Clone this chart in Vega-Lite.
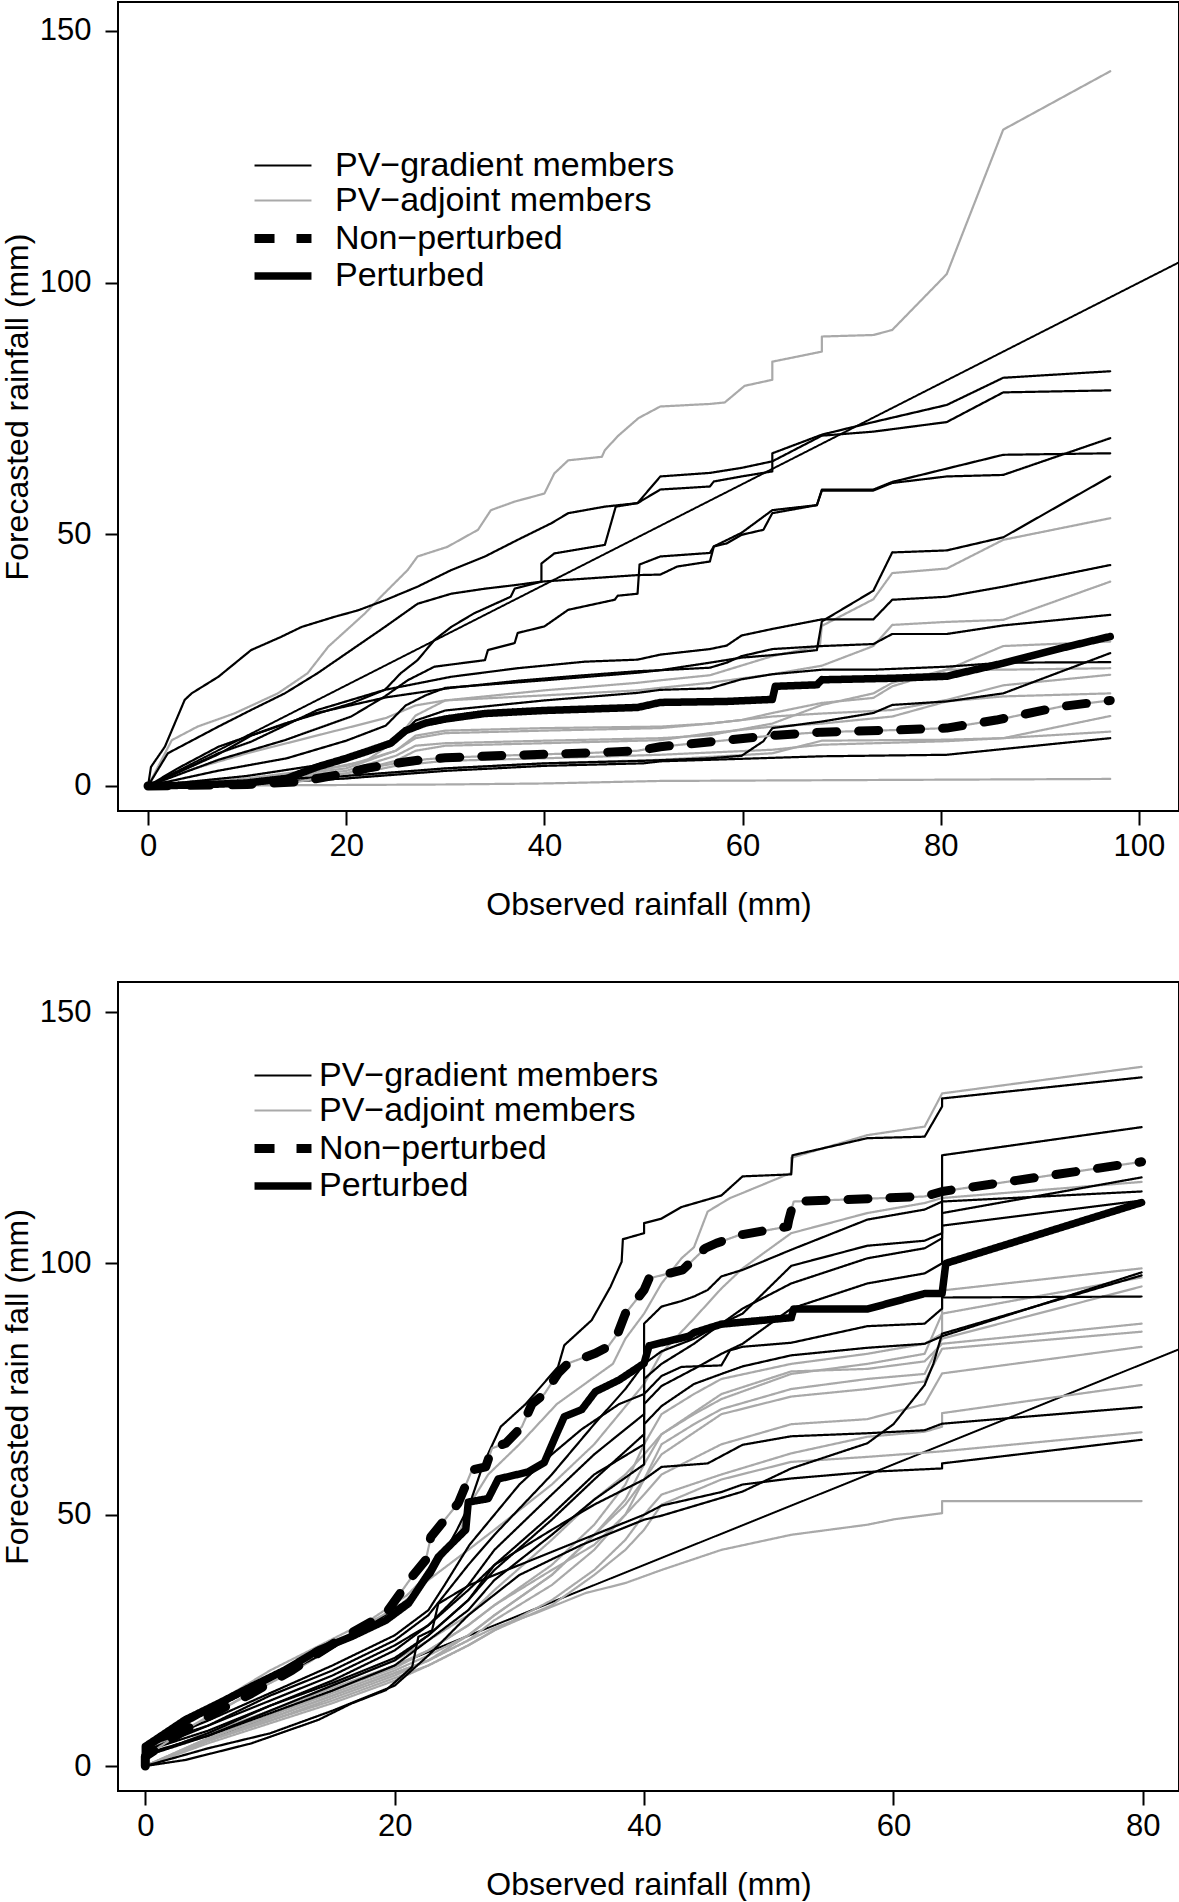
{
"$schema": "https://vega.github.io/schema/vega-lite/v6.json",
"autosize": {"type": "pad"},
"padding": {"left": 0, "top": 1, "right": 0, "bottom": 0},
"background": "white",
"bounds": "flush",
"spacing": 171,
"config": {
  "font": "Liberation Sans",
  "view": {"stroke": "#000", "strokeWidth": 2},
  "axis": {"domain": false, "grid": false, "tickColor": "#000", "tickWidth": 2, "labelColor": "#000", "titleColor": "#000", "labelFontSize": 31, "titleFontSize": 32, "titleFontWeight": "normal", "labelFont": "Liberation Sans", "titleFont": "Liberation Sans", "labelFlush": false, "labelOverlap": false},
  "axisX": {"tickSize": 14, "labelPadding": 6, "titlePadding": 28},
  "axisY": {"tickSize": 13, "labelPadding": 14, "titlePadding": 5, "labelAngle": 0},
  "line": {"strokeCap": "round", "strokeJoin": "round"}
},
"datasets": {"d": [
{"p":"T","s":"a1","k":"a","x":0,"y":0},{"p":"T","s":"a1","k":"a","x":2.4,"y":9.1},{"p":"T","s":"a1","k":"a","x":5,"y":11.8},{"p":"T","s":"a1","k":"a","x":8.7,"y":14.4},{"p":"T","s":"a1","k":"a","x":13.1,"y":18.4},{"p":"T","s":"a1","k":"a","x":16.1,"y":22.4},{"p":"T","s":"a1","k":"a","x":18.2,"y":27.7},{"p":"T","s":"a1","k":"a","x":21.9,"y":34.3},{"p":"T","s":"a1","k":"a","x":23.5,"y":37.6},{"p":"T","s":"a1","k":"a","x":26.2,"y":42.9},{"p":"T","s":"a1","k":"a","x":27.2,"y":45.6},{"p":"T","s":"a1","k":"a","x":30.2,"y":47.5},{"p":"T","s":"a1","k":"a","x":33.3,"y":50.9},{"p":"T","s":"a1","k":"a","x":34.6,"y":54.8},{"p":"T","s":"a1","k":"a","x":37,"y":56.5},{"p":"T","s":"a1","k":"a","x":40,"y":58.1},{"p":"T","s":"a1","k":"a","x":41,"y":62.1},{"p":"T","s":"a1","k":"a","x":42.4,"y":64.7},{"p":"T","s":"a1","k":"a","x":45.8,"y":65.4},{"p":"T","s":"a1","k":"a","x":46.1,"y":66.7},{"p":"T","s":"a1","k":"a","x":47.4,"y":69.5},{"p":"T","s":"a1","k":"a","x":49.5,"y":73.1},{"p":"T","s":"a1","k":"a","x":51.7,"y":75.4},{"p":"T","s":"a1","k":"a","x":56.7,"y":75.9},{"p":"T","s":"a1","k":"a","x":58.2,"y":76.2},{"p":"T","s":"a1","k":"a","x":60.2,"y":79.5},{"p":"T","s":"a1","k":"a","x":63,"y":80.7},{"p":"T","s":"a1","k":"a","x":63,"y":84.3},{"p":"T","s":"a1","k":"a","x":68,"y":86.3},{"p":"T","s":"a1","k":"a","x":68,"y":89.3},{"p":"T","s":"a1","k":"a","x":73.2,"y":89.6},{"p":"T","s":"a1","k":"a","x":75.1,"y":90.6},{"p":"T","s":"a1","k":"a","x":80.6,"y":101.7},{"p":"T","s":"a1","k":"a","x":86.3,"y":130.4},{"p":"T","s":"a1","k":"a","x":97.1,"y":142},
{"p":"T","s":"a2","k":"a","x":0,"y":0},{"p":"T","s":"a2","k":"a","x":10,"y":1},{"p":"T","s":"a2","k":"a","x":17,"y":3},{"p":"T","s":"a2","k":"a","x":22,"y":5},{"p":"T","s":"a2","k":"a","x":25,"y":9},{"p":"T","s":"a2","k":"a","x":27,"y":14},{"p":"T","s":"a2","k":"a","x":30,"y":17},{"p":"T","s":"a2","k":"a","x":40,"y":19},{"p":"T","s":"a2","k":"a","x":49.4,"y":20.5},{"p":"T","s":"a2","k":"a","x":51.7,"y":21},{"p":"T","s":"a2","k":"a","x":56.7,"y":22},{"p":"T","s":"a2","k":"a","x":63,"y":25.8},{"p":"T","s":"a2","k":"a","x":67.8,"y":27.8},{"p":"T","s":"a2","k":"a","x":68,"y":31.8},{"p":"T","s":"a2","k":"a","x":73.2,"y":37.1},{"p":"T","s":"a2","k":"a","x":75.1,"y":42.3},{"p":"T","s":"a2","k":"a","x":80.6,"y":43.2},{"p":"T","s":"a2","k":"a","x":86.3,"y":48.9},{"p":"T","s":"a2","k":"a","x":97.1,"y":53.2},
{"p":"T","s":"a3","k":"a","x":0,"y":0},{"p":"T","s":"a3","k":"a","x":3,"y":2.5},{"p":"T","s":"a3","k":"a","x":10,"y":6.5},{"p":"T","s":"a3","k":"a","x":17,"y":10},{"p":"T","s":"a3","k":"a","x":24,"y":13.5},{"p":"T","s":"a3","k":"a","x":27,"y":16},{"p":"T","s":"a3","k":"a","x":30,"y":17},{"p":"T","s":"a3","k":"a","x":40,"y":18},{"p":"T","s":"a3","k":"a","x":49.4,"y":19},{"p":"T","s":"a3","k":"a","x":51.7,"y":19.5},{"p":"T","s":"a3","k":"a","x":56.7,"y":20.5},{"p":"T","s":"a3","k":"a","x":63,"y":22.2},{"p":"T","s":"a3","k":"a","x":68,"y":23.9},{"p":"T","s":"a3","k":"a","x":73.2,"y":27.8},{"p":"T","s":"a3","k":"a","x":75.1,"y":32},{"p":"T","s":"a3","k":"a","x":80.6,"y":32.6},{"p":"T","s":"a3","k":"a","x":86.3,"y":33},{"p":"T","s":"a3","k":"a","x":97.1,"y":40.6},
{"p":"T","s":"a4","k":"a","x":0,"y":0},{"p":"T","s":"a4","k":"a","x":10,"y":1.5},{"p":"T","s":"a4","k":"a","x":20,"y":4},{"p":"T","s":"a4","k":"a","x":25,"y":7},{"p":"T","s":"a4","k":"a","x":27,"y":10},{"p":"T","s":"a4","k":"a","x":30,"y":11},{"p":"T","s":"a4","k":"a","x":40,"y":11.5},{"p":"T","s":"a4","k":"a","x":51.7,"y":11.8},{"p":"T","s":"a4","k":"a","x":56.7,"y":12.4},{"p":"T","s":"a4","k":"a","x":59.9,"y":13.1},{"p":"T","s":"a4","k":"a","x":63,"y":14.5},{"p":"T","s":"a4","k":"a","x":68,"y":16.5},{"p":"T","s":"a4","k":"a","x":73.2,"y":17.5},{"p":"T","s":"a4","k":"a","x":75.1,"y":19.8},{"p":"T","s":"a4","k":"a","x":80.6,"y":23.1},{"p":"T","s":"a4","k":"a","x":86.3,"y":27.8},{"p":"T","s":"a4","k":"a","x":97.1,"y":28.7},
{"p":"T","s":"a5","k":"a","x":0,"y":0},{"p":"T","s":"a5","k":"a","x":10,"y":1},{"p":"T","s":"a5","k":"a","x":20,"y":3},{"p":"T","s":"a5","k":"a","x":25,"y":6},{"p":"T","s":"a5","k":"a","x":27,"y":8},{"p":"T","s":"a5","k":"a","x":30,"y":8.5},{"p":"T","s":"a5","k":"a","x":40,"y":9},{"p":"T","s":"a5","k":"a","x":51.7,"y":9.5},{"p":"T","s":"a5","k":"a","x":56.7,"y":10.1},{"p":"T","s":"a5","k":"a","x":63,"y":12.4},{"p":"T","s":"a5","k":"a","x":68,"y":16.1},{"p":"T","s":"a5","k":"a","x":73.2,"y":18.4},{"p":"T","s":"a5","k":"a","x":75.1,"y":20.5},{"p":"T","s":"a5","k":"a","x":80.6,"y":23.1},{"p":"T","s":"a5","k":"a","x":86.3,"y":23.1},{"p":"T","s":"a5","k":"a","x":97.1,"y":23.4},
{"p":"T","s":"a6","k":"a","x":0,"y":0},{"p":"T","s":"a6","k":"a","x":10,"y":1.2},{"p":"T","s":"a6","k":"a","x":20,"y":3.5},{"p":"T","s":"a6","k":"a","x":25,"y":7},{"p":"T","s":"a6","k":"a","x":27,"y":9.5},{"p":"T","s":"a6","k":"a","x":30,"y":10.5},{"p":"T","s":"a6","k":"a","x":40,"y":11},{"p":"T","s":"a6","k":"a","x":51.7,"y":11.5},{"p":"T","s":"a6","k":"a","x":56.7,"y":12.4},{"p":"T","s":"a6","k":"a","x":63,"y":13.8},{"p":"T","s":"a6","k":"a","x":68,"y":14.4},{"p":"T","s":"a6","k":"a","x":75.1,"y":15.1},{"p":"T","s":"a6","k":"a","x":80.6,"y":17.1},{"p":"T","s":"a6","k":"a","x":86.3,"y":20},{"p":"T","s":"a6","k":"a","x":97.1,"y":22.1},
{"p":"T","s":"a7","k":"a","x":0,"y":0},{"p":"T","s":"a7","k":"a","x":10,"y":1},{"p":"T","s":"a7","k":"a","x":20,"y":2.5},{"p":"T","s":"a7","k":"a","x":25,"y":5},{"p":"T","s":"a7","k":"a","x":27,"y":7},{"p":"T","s":"a7","k":"a","x":30,"y":8},{"p":"T","s":"a7","k":"a","x":40,"y":8.5},{"p":"T","s":"a7","k":"a","x":51.7,"y":9.1},{"p":"T","s":"a7","k":"a","x":56.7,"y":10.5},{"p":"T","s":"a7","k":"a","x":63,"y":11.8},{"p":"T","s":"a7","k":"a","x":68,"y":12.4},{"p":"T","s":"a7","k":"a","x":75.1,"y":13.8},{"p":"T","s":"a7","k":"a","x":80.6,"y":16.8},{"p":"T","s":"a7","k":"a","x":86.3,"y":17.8},{"p":"T","s":"a7","k":"a","x":97.1,"y":18.4},
{"p":"T","s":"a8","k":"a","x":0,"y":0},{"p":"T","s":"a8","k":"a","x":10,"y":0.8},{"p":"T","s":"a8","k":"a","x":20,"y":2},{"p":"T","s":"a8","k":"a","x":25,"y":4},{"p":"T","s":"a8","k":"a","x":30,"y":5},{"p":"T","s":"a8","k":"a","x":40,"y":5.5},{"p":"T","s":"a8","k":"a","x":51.7,"y":6.2},{"p":"T","s":"a8","k":"a","x":63,"y":7.2},{"p":"T","s":"a8","k":"a","x":68,"y":8.2},{"p":"T","s":"a8","k":"a","x":80.6,"y":8.9},{"p":"T","s":"a8","k":"a","x":86.3,"y":9.5},{"p":"T","s":"a8","k":"a","x":97.1,"y":13.9},
{"p":"T","s":"a9","k":"a","x":0,"y":0},{"p":"T","s":"a9","k":"a","x":10,"y":0.5},{"p":"T","s":"a9","k":"a","x":20,"y":1.5},{"p":"T","s":"a9","k":"a","x":30,"y":3.5},{"p":"T","s":"a9","k":"a","x":40,"y":4.5},{"p":"T","s":"a9","k":"a","x":51.7,"y":5.2},{"p":"T","s":"a9","k":"a","x":63,"y":6.5},{"p":"T","s":"a9","k":"a","x":68,"y":9},{"p":"T","s":"a9","k":"a","x":80.6,"y":9.2},{"p":"T","s":"a9","k":"a","x":86.3,"y":9.5},{"p":"T","s":"a9","k":"a","x":97.1,"y":10.8},
{"p":"T","s":"a10","k":"a","x":0,"y":0},{"p":"T","s":"a10","k":"a","x":10,"y":0.1},{"p":"T","s":"a10","k":"a","x":20,"y":0.2},{"p":"T","s":"a10","k":"a","x":30,"y":0.3},{"p":"T","s":"a10","k":"a","x":40,"y":0.5},{"p":"T","s":"a10","k":"a","x":51.7,"y":1},{"p":"T","s":"a10","k":"a","x":97.1,"y":1.4},
{"p":"T","s":"g1","k":"g","x":0,"y":0},{"p":"T","s":"g1","k":"g","x":0.3,"y":3.8},{"p":"T","s":"g1","k":"g","x":1.7,"y":7.8},{"p":"T","s":"g1","k":"g","x":3.7,"y":17.1},{"p":"T","s":"g1","k":"g","x":4.4,"y":18.4},{"p":"T","s":"g1","k":"g","x":7.1,"y":21.7},{"p":"T","s":"g1","k":"g","x":10.4,"y":27},{"p":"T","s":"g1","k":"g","x":13.4,"y":29.6},{"p":"T","s":"g1","k":"g","x":15.5,"y":31.6},{"p":"T","s":"g1","k":"g","x":18.8,"y":33.6},{"p":"T","s":"g1","k":"g","x":21.2,"y":34.9},{"p":"T","s":"g1","k":"g","x":23.9,"y":36.9},{"p":"T","s":"g1","k":"g","x":27.2,"y":39.6},{"p":"T","s":"g1","k":"g","x":30.6,"y":42.9},{"p":"T","s":"g1","k":"g","x":34,"y":45.6},{"p":"T","s":"g1","k":"g","x":37.3,"y":48.9},{"p":"T","s":"g1","k":"g","x":40.7,"y":52.2},{"p":"T","s":"g1","k":"g","x":42.4,"y":54.2},{"p":"T","s":"g1","k":"g","x":46.1,"y":55.5},{"p":"T","s":"g1","k":"g","x":49.4,"y":56.2},{"p":"T","s":"g1","k":"g","x":51.7,"y":58.9},{"p":"T","s":"g1","k":"g","x":56.7,"y":59.5},{"p":"T","s":"g1","k":"g","x":57.1,"y":60.5},{"p":"T","s":"g1","k":"g","x":59.9,"y":61.5},{"p":"T","s":"g1","k":"g","x":63,"y":62.5},{"p":"T","s":"g1","k":"g","x":63,"y":64.5},{"p":"T","s":"g1","k":"g","x":68,"y":69.6},{"p":"T","s":"g1","k":"g","x":73.2,"y":70.4},{"p":"T","s":"g1","k":"g","x":80.6,"y":72.3},{"p":"T","s":"g1","k":"g","x":86.3,"y":78.2},{"p":"T","s":"g1","k":"g","x":97.1,"y":78.6},
{"p":"T","s":"g2","k":"g","x":0,"y":0},{"p":"T","s":"g2","k":"g","x":3,"y":3.5},{"p":"T","s":"g2","k":"g","x":7.1,"y":7.8},{"p":"T","s":"g2","k":"g","x":13.8,"y":12.4},{"p":"T","s":"g2","k":"g","x":20.5,"y":16.4},{"p":"T","s":"g2","k":"g","x":23.9,"y":19.1},{"p":"T","s":"g2","k":"g","x":25.5,"y":22.4},{"p":"T","s":"g2","k":"g","x":27.2,"y":25},{"p":"T","s":"g2","k":"g","x":28.9,"y":29},{"p":"T","s":"g2","k":"g","x":30.6,"y":31.6},{"p":"T","s":"g2","k":"g","x":32.9,"y":34.3},{"p":"T","s":"g2","k":"g","x":36.6,"y":37.6},{"p":"T","s":"g2","k":"g","x":37,"y":39.2},{"p":"T","s":"g2","k":"g","x":39.7,"y":40.6},{"p":"T","s":"g2","k":"g","x":39.7,"y":44.2},{"p":"T","s":"g2","k":"g","x":41,"y":46.2},{"p":"T","s":"g2","k":"g","x":46.1,"y":47.9},{"p":"T","s":"g2","k":"g","x":47.2,"y":55.5},{"p":"T","s":"g2","k":"g","x":49.4,"y":56.2},{"p":"T","s":"g2","k":"g","x":51.7,"y":61.5},{"p":"T","s":"g2","k":"g","x":56.7,"y":62.2},{"p":"T","s":"g2","k":"g","x":59.9,"y":63.2},{"p":"T","s":"g2","k":"g","x":63,"y":64.5},{"p":"T","s":"g2","k":"g","x":63,"y":66.1},{"p":"T","s":"g2","k":"g","x":68,"y":69.8},{"p":"T","s":"g2","k":"g","x":73.2,"y":72.3},{"p":"T","s":"g2","k":"g","x":80.6,"y":75.7},{"p":"T","s":"g2","k":"g","x":86.3,"y":81.1},{"p":"T","s":"g2","k":"g","x":97.1,"y":82.4},
{"p":"T","s":"g3","k":"g","x":0,"y":0},{"p":"T","s":"g3","k":"g","x":2,"y":6.5},{"p":"T","s":"g3","k":"g","x":7.1,"y":11.8},{"p":"T","s":"g3","k":"g","x":10.4,"y":15.1},{"p":"T","s":"g3","k":"g","x":13.8,"y":18.4},{"p":"T","s":"g3","k":"g","x":17.1,"y":22.4},{"p":"T","s":"g3","k":"g","x":20.5,"y":27},{"p":"T","s":"g3","k":"g","x":23.9,"y":31.6},{"p":"T","s":"g3","k":"g","x":27.2,"y":36.2},{"p":"T","s":"g3","k":"g","x":30.6,"y":38.2},{"p":"T","s":"g3","k":"g","x":34,"y":39.2},{"p":"T","s":"g3","k":"g","x":37,"y":39.9},{"p":"T","s":"g3","k":"g","x":39.7,"y":40.6},{"p":"T","s":"g3","k":"g","x":49.4,"y":41.9},{"p":"T","s":"g3","k":"g","x":51.7,"y":42},{"p":"T","s":"g3","k":"g","x":53.4,"y":43.6},{"p":"T","s":"g3","k":"g","x":56.7,"y":44.6},{"p":"T","s":"g3","k":"g","x":57.1,"y":47.6},{"p":"T","s":"g3","k":"g","x":58.4,"y":48.2},{"p":"T","s":"g3","k":"g","x":59.9,"y":49.9},{"p":"T","s":"g3","k":"g","x":62.1,"y":50.9},{"p":"T","s":"g3","k":"g","x":63,"y":54.2},{"p":"T","s":"g3","k":"g","x":67.5,"y":55.8},{"p":"T","s":"g3","k":"g","x":68,"y":58.7},{"p":"T","s":"g3","k":"g","x":73.2,"y":58.7},{"p":"T","s":"g3","k":"g","x":75.1,"y":60.2},{"p":"T","s":"g3","k":"g","x":80.6,"y":61.5},{"p":"T","s":"g3","k":"g","x":86.3,"y":61.8},{"p":"T","s":"g3","k":"g","x":97.1,"y":69.1},
{"p":"T","s":"g4","k":"g","x":0,"y":0},{"p":"T","s":"g4","k":"g","x":7.1,"y":5.2},{"p":"T","s":"g4","k":"g","x":13.8,"y":9.1},{"p":"T","s":"g4","k":"g","x":20.5,"y":13.8},{"p":"T","s":"g4","k":"g","x":23.9,"y":17.8},{"p":"T","s":"g4","k":"g","x":26.2,"y":21},{"p":"T","s":"g4","k":"g","x":28.9,"y":23.7},{"p":"T","s":"g4","k":"g","x":34,"y":25},{"p":"T","s":"g4","k":"g","x":34.3,"y":27},{"p":"T","s":"g4","k":"g","x":37,"y":28.4},{"p":"T","s":"g4","k":"g","x":37.3,"y":30.4},{"p":"T","s":"g4","k":"g","x":40,"y":31.7},{"p":"T","s":"g4","k":"g","x":42.4,"y":35},{"p":"T","s":"g4","k":"g","x":47.1,"y":37},{"p":"T","s":"g4","k":"g","x":47.4,"y":37.8},{"p":"T","s":"g4","k":"g","x":49.4,"y":38.2},{"p":"T","s":"g4","k":"g","x":49.6,"y":44},{"p":"T","s":"g4","k":"g","x":51.7,"y":45.6},{"p":"T","s":"g4","k":"g","x":56.7,"y":46.3},{"p":"T","s":"g4","k":"g","x":57.1,"y":47.6},{"p":"T","s":"g4","k":"g","x":59.9,"y":50.3},{"p":"T","s":"g4","k":"g","x":63,"y":54.8},{"p":"T","s":"g4","k":"g","x":67.5,"y":55.8},{"p":"T","s":"g4","k":"g","x":68,"y":58.9},{"p":"T","s":"g4","k":"g","x":73.2,"y":58.9},{"p":"T","s":"g4","k":"g","x":75.1,"y":60.4},{"p":"T","s":"g4","k":"g","x":86.3,"y":65.8},{"p":"T","s":"g4","k":"g","x":97.1,"y":66.1},
{"p":"T","s":"g5","k":"g","x":0,"y":0},{"p":"T","s":"g5","k":"g","x":7,"y":3},{"p":"T","s":"g5","k":"g","x":14,"y":5.5},{"p":"T","s":"g5","k":"g","x":20,"y":9},{"p":"T","s":"g5","k":"g","x":24,"y":12},{"p":"T","s":"g5","k":"g","x":26,"y":16},{"p":"T","s":"g5","k":"g","x":28,"y":18},{"p":"T","s":"g5","k":"g","x":30,"y":19.5},{"p":"T","s":"g5","k":"g","x":40,"y":21},{"p":"T","s":"g5","k":"g","x":49.4,"y":22.5},{"p":"T","s":"g5","k":"g","x":51.7,"y":23},{"p":"T","s":"g5","k":"g","x":56.7,"y":24.5},{"p":"T","s":"g5","k":"g","x":59.9,"y":25.5},{"p":"T","s":"g5","k":"g","x":63,"y":26},{"p":"T","s":"g5","k":"g","x":67.5,"y":27},{"p":"T","s":"g5","k":"g","x":68,"y":32.7},{"p":"T","s":"g5","k":"g","x":73.2,"y":38.8},{"p":"T","s":"g5","k":"g","x":75.1,"y":46.4},{"p":"T","s":"g5","k":"g","x":80.6,"y":46.8},{"p":"T","s":"g5","k":"g","x":86.3,"y":49.4},{"p":"T","s":"g5","k":"g","x":97.1,"y":61.5},
{"p":"T","s":"g6","k":"g","x":0,"y":0},{"p":"T","s":"g6","k":"g","x":7.1,"y":6.5},{"p":"T","s":"g6","k":"g","x":10.4,"y":8.8},{"p":"T","s":"g6","k":"g","x":17.1,"y":15.1},{"p":"T","s":"g6","k":"g","x":23.9,"y":19.1},{"p":"T","s":"g6","k":"g","x":30.6,"y":21.7},{"p":"T","s":"g6","k":"g","x":37.3,"y":23.4},{"p":"T","s":"g6","k":"g","x":44.1,"y":24.7},{"p":"T","s":"g6","k":"g","x":49.4,"y":25.1},{"p":"T","s":"g6","k":"g","x":51.7,"y":26.1},{"p":"T","s":"g6","k":"g","x":56.7,"y":27.2},{"p":"T","s":"g6","k":"g","x":58.4,"y":27.9},{"p":"T","s":"g6","k":"g","x":59.9,"y":29.9},{"p":"T","s":"g6","k":"g","x":63,"y":31.2},{"p":"T","s":"g6","k":"g","x":68,"y":33.1},{"p":"T","s":"g6","k":"g","x":73.2,"y":33.1},{"p":"T","s":"g6","k":"g","x":75.1,"y":37},{"p":"T","s":"g6","k":"g","x":80.6,"y":37.6},{"p":"T","s":"g6","k":"g","x":86.3,"y":39.6},{"p":"T","s":"g6","k":"g","x":97.1,"y":43.9},
{"p":"T","s":"g7","k":"g","x":0,"y":0},{"p":"T","s":"g7","k":"g","x":7,"y":6.2},{"p":"T","s":"g7","k":"g","x":10.4,"y":10},{"p":"T","s":"g7","k":"g","x":17,"y":14.5},{"p":"T","s":"g7","k":"g","x":24,"y":17.6},{"p":"T","s":"g7","k":"g","x":30.6,"y":19.5},{"p":"T","s":"g7","k":"g","x":37.3,"y":20.9},{"p":"T","s":"g7","k":"g","x":44,"y":22},{"p":"T","s":"g7","k":"g","x":49.4,"y":22.8},{"p":"T","s":"g7","k":"g","x":51.7,"y":23},{"p":"T","s":"g7","k":"g","x":56.7,"y":23.5},{"p":"T","s":"g7","k":"g","x":58.4,"y":24.5},{"p":"T","s":"g7","k":"g","x":59.9,"y":25.8},{"p":"T","s":"g7","k":"g","x":63,"y":27.2},{"p":"T","s":"g7","k":"g","x":68,"y":27.8},{"p":"T","s":"g7","k":"g","x":73.2,"y":28.2},{"p":"T","s":"g7","k":"g","x":75.1,"y":30.2},{"p":"T","s":"g7","k":"g","x":80.6,"y":30.2},{"p":"T","s":"g7","k":"g","x":86.3,"y":31.9},{"p":"T","s":"g7","k":"g","x":97.1,"y":34},
{"p":"T","s":"g8","k":"g","x":0,"y":0},{"p":"T","s":"g8","k":"g","x":10,"y":2},{"p":"T","s":"g8","k":"g","x":20,"y":5},{"p":"T","s":"g8","k":"g","x":25,"y":9},{"p":"T","s":"g8","k":"g","x":27,"y":13},{"p":"T","s":"g8","k":"g","x":30,"y":15},{"p":"T","s":"g8","k":"g","x":40,"y":17},{"p":"T","s":"g8","k":"g","x":49.4,"y":18.5},{"p":"T","s":"g8","k":"g","x":51.7,"y":19.1},{"p":"T","s":"g8","k":"g","x":56.7,"y":19.4},{"p":"T","s":"g8","k":"g","x":59.9,"y":21.2},{"p":"T","s":"g8","k":"g","x":63,"y":22.2},{"p":"T","s":"g8","k":"g","x":68,"y":23.1},{"p":"T","s":"g8","k":"g","x":73.2,"y":23.1},{"p":"T","s":"g8","k":"g","x":80.6,"y":23.7},{"p":"T","s":"g8","k":"g","x":86.3,"y":24.5},{"p":"T","s":"g8","k":"g","x":97.1,"y":24.6},
{"p":"T","s":"g9","k":"g","x":0,"y":0},{"p":"T","s":"g9","k":"g","x":10,"y":1},{"p":"T","s":"g9","k":"g","x":20,"y":2},{"p":"T","s":"g9","k":"g","x":30,"y":3.5},{"p":"T","s":"g9","k":"g","x":40,"y":4.5},{"p":"T","s":"g9","k":"g","x":50,"y":5},{"p":"T","s":"g9","k":"g","x":56.7,"y":5.5},{"p":"T","s":"g9","k":"g","x":59.9,"y":6},{"p":"T","s":"g9","k":"g","x":62.1,"y":8.9},{"p":"T","s":"g9","k":"g","x":63,"y":11.5},{"p":"T","s":"g9","k":"g","x":68,"y":12.8},{"p":"T","s":"g9","k":"g","x":73.2,"y":14.5},{"p":"T","s":"g9","k":"g","x":75.1,"y":16.1},{"p":"T","s":"g9","k":"g","x":80.6,"y":16.8},{"p":"T","s":"g9","k":"g","x":86.3,"y":18.4},{"p":"T","s":"g9","k":"g","x":97.1,"y":26.4},
{"p":"T","s":"g10","k":"g","x":0,"y":0},{"p":"T","s":"g10","k":"g","x":10,"y":0.5},{"p":"T","s":"g10","k":"g","x":20,"y":1.5},{"p":"T","s":"g10","k":"g","x":30,"y":3},{"p":"T","s":"g10","k":"g","x":40,"y":4},{"p":"T","s":"g10","k":"g","x":50,"y":4.5},{"p":"T","s":"g10","k":"g","x":51.7,"y":4.9},{"p":"T","s":"g10","k":"g","x":56.7,"y":5.2},{"p":"T","s":"g10","k":"g","x":68,"y":5.9},{"p":"T","s":"g10","k":"g","x":80.6,"y":6.2},{"p":"T","s":"g10","k":"g","x":97.1,"y":9.5},
{"p":"T","s":"n","k":"n","x":0,"y":0},{"p":"T","s":"n","k":"n","x":10,"y":0.3},{"p":"T","s":"n","k":"n","x":15,"y":0.8},{"p":"T","s":"n","k":"n","x":18,"y":1.8},{"p":"T","s":"n","k":"n","x":20,"y":2.5},{"p":"T","s":"n","k":"n","x":22,"y":3.5},{"p":"T","s":"n","k":"n","x":25,"y":4.5},{"p":"T","s":"n","k":"n","x":28,"y":5.3},{"p":"T","s":"n","k":"n","x":30,"y":5.6},{"p":"T","s":"n","k":"n","x":35,"y":6},{"p":"T","s":"n","k":"n","x":40,"y":6.3},{"p":"T","s":"n","k":"n","x":45,"y":6.6},{"p":"T","s":"n","k":"n","x":49.4,"y":7},{"p":"T","s":"n","k":"n","x":51.7,"y":7.8},{"p":"T","s":"n","k":"n","x":58.4,"y":9.1},{"p":"T","s":"n","k":"n","x":63.4,"y":10.1},{"p":"T","s":"n","k":"n","x":68,"y":10.7},{"p":"T","s":"n","k":"n","x":75.2,"y":11.1},{"p":"T","s":"n","k":"n","x":80.6,"y":11.5},{"p":"T","s":"n","k":"n","x":85.6,"y":13.1},{"p":"T","s":"n","k":"n","x":92.2,"y":15.8},{"p":"T","s":"n","k":"n","x":97.1,"y":17},
{"p":"T","s":"p","k":"p","x":0,"y":0},{"p":"T","s":"p","k":"p","x":5,"y":0.2},{"p":"T","s":"p","k":"p","x":10,"y":0.6},{"p":"T","s":"p","k":"p","x":14,"y":1.5},{"p":"T","s":"p","k":"p","x":17.1,"y":3.8},{"p":"T","s":"p","k":"p","x":20,"y":5.5},{"p":"T","s":"p","k":"p","x":22.3,"y":7},{"p":"T","s":"p","k":"p","x":24.5,"y":8.5},{"p":"T","s":"p","k":"p","x":26,"y":11},{"p":"T","s":"p","k":"p","x":28,"y":12.5},{"p":"T","s":"p","k":"p","x":30,"y":13.3},{"p":"T","s":"p","k":"p","x":34,"y":14.4},{"p":"T","s":"p","k":"p","x":40,"y":15},{"p":"T","s":"p","k":"p","x":49.4,"y":15.6},{"p":"T","s":"p","k":"p","x":51.7,"y":16.6},{"p":"T","s":"p","k":"p","x":58.4,"y":16.8},{"p":"T","s":"p","k":"p","x":63,"y":17.2},{"p":"T","s":"p","k":"p","x":63.3,"y":19.8},{"p":"T","s":"p","k":"p","x":67.5,"y":20.1},{"p":"T","s":"p","k":"p","x":68,"y":21.1},{"p":"T","s":"p","k":"p","x":75.1,"y":21.4},{"p":"T","s":"p","k":"p","x":80.6,"y":21.8},{"p":"T","s":"p","k":"p","x":86.3,"y":24.4},{"p":"T","s":"p","k":"p","x":92.2,"y":27.4},{"p":"T","s":"p","k":"p","x":97.1,"y":29.7},
{"p":"B","s":"h1","k":"a","x":0,"y":0},{"p":"B","s":"h1","k":"a","x":0,"y":3},{"p":"B","s":"h1","k":"a","x":3,"y":8},{"p":"B","s":"h1","k":"a","x":6,"y":13},{"p":"B","s":"h1","k":"a","x":10,"y":19},{"p":"B","s":"h1","k":"a","x":14,"y":24},{"p":"B","s":"h1","k":"a","x":18,"y":29},{"p":"B","s":"h1","k":"a","x":21,"y":34},{"p":"B","s":"h1","k":"a","x":23,"y":39},{"p":"B","s":"h1","k":"a","x":25,"y":45},{"p":"B","s":"h1","k":"a","x":26,"y":52},{"p":"B","s":"h1","k":"a","x":27.5,"y":58},{"p":"B","s":"h1","k":"a","x":30,"y":64},{"p":"B","s":"h1","k":"a","x":33,"y":72},{"p":"B","s":"h1","k":"a","x":35.8,"y":77},{"p":"B","s":"h1","k":"a","x":37.5,"y":80},{"p":"B","s":"h1","k":"a","x":38.5,"y":85},{"p":"B","s":"h1","k":"a","x":40,"y":90},{"p":"B","s":"h1","k":"a","x":41.4,"y":96},{"p":"B","s":"h1","k":"a","x":43,"y":101},{"p":"B","s":"h1","k":"a","x":44,"y":103.2},{"p":"B","s":"h1","k":"a","x":45.1,"y":110.3},{"p":"B","s":"h1","k":"a","x":46.9,"y":113},{"p":"B","s":"h1","k":"a","x":47.9,"y":114},{"p":"B","s":"h1","k":"a","x":51.8,"y":118},{"p":"B","s":"h1","k":"a","x":51.8,"y":121},{"p":"B","s":"h1","k":"a","x":57.9,"y":125.5},{"p":"B","s":"h1","k":"a","x":62.5,"y":127.2},{"p":"B","s":"h1","k":"a","x":63.9,"y":133.8},{"p":"B","s":"h1","k":"a","x":79.9,"y":139.1},
{"p":"B","s":"h3","k":"a","x":0,"y":0},{"p":"B","s":"h3","k":"a","x":0,"y":3},{"p":"B","s":"h3","k":"a","x":4,"y":8},{"p":"B","s":"h3","k":"a","x":8,"y":14},{"p":"B","s":"h3","k":"a","x":12,"y":19},{"p":"B","s":"h3","k":"a","x":16,"y":25},{"p":"B","s":"h3","k":"a","x":20,"y":31},{"p":"B","s":"h3","k":"a","x":22.7,"y":37},{"p":"B","s":"h3","k":"a","x":25.9,"y":43},{"p":"B","s":"h3","k":"a","x":28,"y":47},{"p":"B","s":"h3","k":"a","x":32.6,"y":56},{"p":"B","s":"h3","k":"a","x":36,"y":64},{"p":"B","s":"h3","k":"a","x":38,"y":70},{"p":"B","s":"h3","k":"a","x":40,"y":76},{"p":"B","s":"h3","k":"a","x":41.4,"y":82.2},{"p":"B","s":"h3","k":"a","x":44,"y":89},{"p":"B","s":"h3","k":"a","x":46.2,"y":95},{"p":"B","s":"h3","k":"a","x":47.9,"y":99},{"p":"B","s":"h3","k":"a","x":51.8,"y":106},{"p":"B","s":"h3","k":"a","x":57.9,"y":110},{"p":"B","s":"h3","k":"a","x":62.5,"y":112},{"p":"B","s":"h3","k":"a","x":63.9,"y":113},{"p":"B","s":"h3","k":"a","x":79.9,"y":116.2},
{"p":"B","s":"h4","k":"a","x":0,"y":0},{"p":"B","s":"h4","k":"a","x":0,"y":2},{"p":"B","s":"h4","k":"a","x":5,"y":6.5},{"p":"B","s":"h4","k":"a","x":10,"y":11},{"p":"B","s":"h4","k":"a","x":15,"y":15.5},{"p":"B","s":"h4","k":"a","x":20,"y":20},{"p":"B","s":"h4","k":"a","x":22.7,"y":23},{"p":"B","s":"h4","k":"a","x":25.9,"y":28},{"p":"B","s":"h4","k":"a","x":28,"y":32},{"p":"B","s":"h4","k":"a","x":32.6,"y":40},{"p":"B","s":"h4","k":"a","x":36,"y":48},{"p":"B","s":"h4","k":"a","x":38.5,"y":56},{"p":"B","s":"h4","k":"a","x":40,"y":64},{"p":"B","s":"h4","k":"a","x":41.4,"y":70},{"p":"B","s":"h4","k":"a","x":44,"y":74},{"p":"B","s":"h4","k":"a","x":46.2,"y":77},{"p":"B","s":"h4","k":"a","x":51.8,"y":80},{"p":"B","s":"h4","k":"a","x":57.9,"y":82},{"p":"B","s":"h4","k":"a","x":62.5,"y":84},{"p":"B","s":"h4","k":"a","x":63.9,"y":86},{"p":"B","s":"h4","k":"a","x":63.9,"y":94.6},{"p":"B","s":"h4","k":"a","x":79.9,"y":99},
{"p":"B","s":"h5","k":"a","x":0,"y":0},{"p":"B","s":"h5","k":"a","x":5,"y":5.5},{"p":"B","s":"h5","k":"a","x":10,"y":10},{"p":"B","s":"h5","k":"a","x":15,"y":14.5},{"p":"B","s":"h5","k":"a","x":20,"y":19},{"p":"B","s":"h5","k":"a","x":22.7,"y":22},{"p":"B","s":"h5","k":"a","x":25.9,"y":26},{"p":"B","s":"h5","k":"a","x":28,"y":30},{"p":"B","s":"h5","k":"a","x":32.6,"y":38},{"p":"B","s":"h5","k":"a","x":36,"y":46},{"p":"B","s":"h5","k":"a","x":38.5,"y":53},{"p":"B","s":"h5","k":"a","x":40,"y":60},{"p":"B","s":"h5","k":"a","x":41.4,"y":66},{"p":"B","s":"h5","k":"a","x":44,"y":70},{"p":"B","s":"h5","k":"a","x":46.2,"y":73},{"p":"B","s":"h5","k":"a","x":51.8,"y":78},{"p":"B","s":"h5","k":"a","x":57.9,"y":80},{"p":"B","s":"h5","k":"a","x":62.5,"y":82},{"p":"B","s":"h5","k":"a","x":63.9,"y":90},{"p":"B","s":"h5","k":"a","x":79.9,"y":97.2},
{"p":"B","s":"h6","k":"a","x":0,"y":0},{"p":"B","s":"h6","k":"a","x":5,"y":5},{"p":"B","s":"h6","k":"a","x":10,"y":9.5},{"p":"B","s":"h6","k":"a","x":15,"y":14},{"p":"B","s":"h6","k":"a","x":20,"y":18.5},{"p":"B","s":"h6","k":"a","x":22.7,"y":21},{"p":"B","s":"h6","k":"a","x":25.9,"y":25},{"p":"B","s":"h6","k":"a","x":28,"y":29},{"p":"B","s":"h6","k":"a","x":32.6,"y":36},{"p":"B","s":"h6","k":"a","x":36,"y":43},{"p":"B","s":"h6","k":"a","x":38.5,"y":50},{"p":"B","s":"h6","k":"a","x":40,"y":57},{"p":"B","s":"h6","k":"a","x":41.4,"y":64},{"p":"B","s":"h6","k":"a","x":44,"y":68},{"p":"B","s":"h6","k":"a","x":46.2,"y":71},{"p":"B","s":"h6","k":"a","x":51.8,"y":75},{"p":"B","s":"h6","k":"a","x":57.9,"y":77},{"p":"B","s":"h6","k":"a","x":62.5,"y":78},{"p":"B","s":"h6","k":"a","x":63.9,"y":85},{"p":"B","s":"h6","k":"a","x":79.9,"y":95.4},
{"p":"B","s":"h7","k":"a","x":0,"y":0},{"p":"B","s":"h7","k":"a","x":0,"y":2},{"p":"B","s":"h7","k":"a","x":5,"y":6},{"p":"B","s":"h7","k":"a","x":10,"y":11},{"p":"B","s":"h7","k":"a","x":15,"y":16},{"p":"B","s":"h7","k":"a","x":20,"y":21},{"p":"B","s":"h7","k":"a","x":22.7,"y":25},{"p":"B","s":"h7","k":"a","x":25.9,"y":30},{"p":"B","s":"h7","k":"a","x":28,"y":35},{"p":"B","s":"h7","k":"a","x":32.6,"y":45},{"p":"B","s":"h7","k":"a","x":36,"y":53},{"p":"B","s":"h7","k":"a","x":38.5,"y":58},{"p":"B","s":"h7","k":"a","x":40,"y":62},{"p":"B","s":"h7","k":"a","x":41.4,"y":66},{"p":"B","s":"h7","k":"a","x":46.2,"y":74},{"p":"B","s":"h7","k":"a","x":51.8,"y":78.5},{"p":"B","s":"h7","k":"a","x":57.9,"y":79},{"p":"B","s":"h7","k":"a","x":62.5,"y":80.5},{"p":"B","s":"h7","k":"a","x":63.9,"y":84},{"p":"B","s":"h7","k":"a","x":79.9,"y":88},
{"p":"B","s":"h8","k":"a","x":0,"y":0},{"p":"B","s":"h8","k":"a","x":5,"y":5},{"p":"B","s":"h8","k":"a","x":10,"y":9},{"p":"B","s":"h8","k":"a","x":15,"y":13.5},{"p":"B","s":"h8","k":"a","x":20,"y":18},{"p":"B","s":"h8","k":"a","x":22.7,"y":21},{"p":"B","s":"h8","k":"a","x":25.9,"y":26},{"p":"B","s":"h8","k":"a","x":28,"y":30},{"p":"B","s":"h8","k":"a","x":32.6,"y":38},{"p":"B","s":"h8","k":"a","x":36,"y":46},{"p":"B","s":"h8","k":"a","x":38.5,"y":52},{"p":"B","s":"h8","k":"a","x":40,"y":57},{"p":"B","s":"h8","k":"a","x":41.4,"y":62},{"p":"B","s":"h8","k":"a","x":46.2,"y":70},{"p":"B","s":"h8","k":"a","x":51.8,"y":73.5},{"p":"B","s":"h8","k":"a","x":57.9,"y":75},{"p":"B","s":"h8","k":"a","x":62.5,"y":76.5},{"p":"B","s":"h8","k":"a","x":63.9,"y":83},{"p":"B","s":"h8","k":"a","x":79.9,"y":86.4},
{"p":"B","s":"h9","k":"a","x":0,"y":0},{"p":"B","s":"h9","k":"a","x":5,"y":5.5},{"p":"B","s":"h9","k":"a","x":10,"y":10},{"p":"B","s":"h9","k":"a","x":15,"y":15},{"p":"B","s":"h9","k":"a","x":20,"y":19.5},{"p":"B","s":"h9","k":"a","x":22.7,"y":23},{"p":"B","s":"h9","k":"a","x":25.9,"y":28},{"p":"B","s":"h9","k":"a","x":28,"y":32},{"p":"B","s":"h9","k":"a","x":32.6,"y":39},{"p":"B","s":"h9","k":"a","x":36,"y":44},{"p":"B","s":"h9","k":"a","x":38.5,"y":50},{"p":"B","s":"h9","k":"a","x":40,"y":54},{"p":"B","s":"h9","k":"a","x":41.4,"y":58},{"p":"B","s":"h9","k":"a","x":46.2,"y":64},{"p":"B","s":"h9","k":"a","x":51.8,"y":68},{"p":"B","s":"h9","k":"a","x":57.9,"y":69},{"p":"B","s":"h9","k":"a","x":62.5,"y":72},{"p":"B","s":"h9","k":"a","x":63.9,"y":78.1},{"p":"B","s":"h9","k":"a","x":79.9,"y":83.4},
{"p":"B","s":"h10","k":"a","x":0,"y":0},{"p":"B","s":"h10","k":"a","x":5,"y":5},{"p":"B","s":"h10","k":"a","x":10,"y":9},{"p":"B","s":"h10","k":"a","x":15,"y":13},{"p":"B","s":"h10","k":"a","x":20,"y":17.5},{"p":"B","s":"h10","k":"a","x":22.7,"y":20},{"p":"B","s":"h10","k":"a","x":25.9,"y":24},{"p":"B","s":"h10","k":"a","x":28,"y":27},{"p":"B","s":"h10","k":"a","x":32.6,"y":33},{"p":"B","s":"h10","k":"a","x":36,"y":39},{"p":"B","s":"h10","k":"a","x":38.5,"y":45},{"p":"B","s":"h10","k":"a","x":40,"y":50},{"p":"B","s":"h10","k":"a","x":41.4,"y":54},{"p":"B","s":"h10","k":"a","x":46.2,"y":58},{"p":"B","s":"h10","k":"a","x":51.8,"y":62.2},{"p":"B","s":"h10","k":"a","x":57.9,"y":65.5},{"p":"B","s":"h10","k":"a","x":62.5,"y":66.5},{"p":"B","s":"h10","k":"a","x":63.9,"y":67.5},{"p":"B","s":"h10","k":"a","x":63.9,"y":70.2},{"p":"B","s":"h10","k":"a","x":79.9,"y":75.8},
{"p":"B","s":"h11","k":"a","x":0,"y":0},{"p":"B","s":"h11","k":"a","x":5,"y":4.5},{"p":"B","s":"h11","k":"a","x":10,"y":8.5},{"p":"B","s":"h11","k":"a","x":15,"y":12.5},{"p":"B","s":"h11","k":"a","x":20,"y":17},{"p":"B","s":"h11","k":"a","x":22.7,"y":20},{"p":"B","s":"h11","k":"a","x":25.9,"y":24},{"p":"B","s":"h11","k":"a","x":28,"y":27},{"p":"B","s":"h11","k":"a","x":32.6,"y":32},{"p":"B","s":"h11","k":"a","x":36,"y":38},{"p":"B","s":"h11","k":"a","x":38.5,"y":43},{"p":"B","s":"h11","k":"a","x":40,"y":47},{"p":"B","s":"h11","k":"a","x":41.4,"y":52},{"p":"B","s":"h11","k":"a","x":46.2,"y":57},{"p":"B","s":"h11","k":"a","x":51.8,"y":60.5},{"p":"B","s":"h11","k":"a","x":57.9,"y":61.5},{"p":"B","s":"h11","k":"a","x":63.9,"y":62.6},{"p":"B","s":"h11","k":"a","x":79.9,"y":66.4},
{"p":"B","s":"h12","k":"a","x":0,"y":0},{"p":"B","s":"h12","k":"a","x":5,"y":5},{"p":"B","s":"h12","k":"a","x":10,"y":9.5},{"p":"B","s":"h12","k":"a","x":15,"y":14},{"p":"B","s":"h12","k":"a","x":20,"y":18.5},{"p":"B","s":"h12","k":"a","x":22.7,"y":21},{"p":"B","s":"h12","k":"a","x":25.9,"y":25},{"p":"B","s":"h12","k":"a","x":28,"y":27.5},{"p":"B","s":"h12","k":"a","x":31.3,"y":30.4},{"p":"B","s":"h12","k":"a","x":35.3,"y":34.4},{"p":"B","s":"h12","k":"a","x":38.5,"y":36.4},{"p":"B","s":"h12","k":"a","x":41.4,"y":39},{"p":"B","s":"h12","k":"a","x":46.2,"y":43},{"p":"B","s":"h12","k":"a","x":51.8,"y":46},{"p":"B","s":"h12","k":"a","x":57.9,"y":48},{"p":"B","s":"h12","k":"a","x":60.1,"y":49.1},{"p":"B","s":"h12","k":"a","x":63.9,"y":50.3},{"p":"B","s":"h12","k":"a","x":63.9,"y":52.7},{"p":"B","s":"h12","k":"a","x":79.9,"y":52.7},
{"p":"B","s":"k1","k":"g","x":0,"y":0},{"p":"B","s":"k1","k":"g","x":0,"y":3},{"p":"B","s":"k1","k":"g","x":3,"y":8},{"p":"B","s":"k1","k":"g","x":6,"y":12},{"p":"B","s":"k1","k":"g","x":10,"y":17},{"p":"B","s":"k1","k":"g","x":14,"y":22},{"p":"B","s":"k1","k":"g","x":18,"y":28},{"p":"B","s":"k1","k":"g","x":21,"y":33},{"p":"B","s":"k1","k":"g","x":23,"y":38},{"p":"B","s":"k1","k":"g","x":25,"y":47},{"p":"B","s":"k1","k":"g","x":26,"y":52},{"p":"B","s":"k1","k":"g","x":27.1,"y":60},{"p":"B","s":"k1","k":"g","x":28.5,"y":67.5},{"p":"B","s":"k1","k":"g","x":30.5,"y":72},{"p":"B","s":"k1","k":"g","x":33.1,"y":79.4},{"p":"B","s":"k1","k":"g","x":33.6,"y":83.7},{"p":"B","s":"k1","k":"g","x":35.8,"y":88.7},{"p":"B","s":"k1","k":"g","x":37.3,"y":95.3},{"p":"B","s":"k1","k":"g","x":38.2,"y":100.3},{"p":"B","s":"k1","k":"g","x":38.3,"y":104.8},{"p":"B","s":"k1","k":"g","x":40,"y":106},{"p":"B","s":"k1","k":"g","x":40,"y":108},{"p":"B","s":"k1","k":"g","x":41.4,"y":108.9},{"p":"B","s":"k1","k":"g","x":43,"y":111.2},{"p":"B","s":"k1","k":"g","x":46.2,"y":113.5},{"p":"B","s":"k1","k":"g","x":47.9,"y":117.3},{"p":"B","s":"k1","k":"g","x":51.8,"y":117.7},{"p":"B","s":"k1","k":"g","x":51.9,"y":121.5},{"p":"B","s":"k1","k":"g","x":57.9,"y":124.9},{"p":"B","s":"k1","k":"g","x":62.5,"y":125.2},{"p":"B","s":"k1","k":"g","x":63.9,"y":131.2},{"p":"B","s":"k1","k":"g","x":63.9,"y":132.8},{"p":"B","s":"k1","k":"g","x":79.9,"y":137},
{"p":"B","s":"k2","k":"g","x":0,"y":0},{"p":"B","s":"k2","k":"g","x":0,"y":4},{"p":"B","s":"k2","k":"g","x":5,"y":9},{"p":"B","s":"k2","k":"g","x":10,"y":14.5},{"p":"B","s":"k2","k":"g","x":15,"y":20},{"p":"B","s":"k2","k":"g","x":20,"y":26},{"p":"B","s":"k2","k":"g","x":22.7,"y":31},{"p":"B","s":"k2","k":"g","x":24,"y":36},{"p":"B","s":"k2","k":"g","x":26,"y":44},{"p":"B","s":"k2","k":"g","x":28,"y":50},{"p":"B","s":"k2","k":"g","x":30,"y":56},{"p":"B","s":"k2","k":"g","x":32.6,"y":62},{"p":"B","s":"k2","k":"g","x":35,"y":67},{"p":"B","s":"k2","k":"g","x":38,"y":72},{"p":"B","s":"k2","k":"g","x":40,"y":74},{"p":"B","s":"k2","k":"g","x":40,"y":80},{"p":"B","s":"k2","k":"g","x":41.4,"y":82.5},{"p":"B","s":"k2","k":"g","x":44,"y":85},{"p":"B","s":"k2","k":"g","x":46.2,"y":88},{"p":"B","s":"k2","k":"g","x":47.9,"y":91},{"p":"B","s":"k2","k":"g","x":51.8,"y":96},{"p":"B","s":"k2","k":"g","x":57.9,"y":101},{"p":"B","s":"k2","k":"g","x":62.5,"y":103},{"p":"B","s":"k2","k":"g","x":63.9,"y":105},{"p":"B","s":"k2","k":"g","x":63.9,"y":121.5},{"p":"B","s":"k2","k":"g","x":79.9,"y":127.1},
{"p":"B","s":"k3","k":"g","x":0,"y":0},{"p":"B","s":"k3","k":"g","x":0,"y":2},{"p":"B","s":"k3","k":"g","x":5,"y":6.5},{"p":"B","s":"k3","k":"g","x":10,"y":12},{"p":"B","s":"k3","k":"g","x":15,"y":17},{"p":"B","s":"k3","k":"g","x":20,"y":23},{"p":"B","s":"k3","k":"g","x":22.7,"y":28},{"p":"B","s":"k3","k":"g","x":25.9,"y":36},{"p":"B","s":"k3","k":"g","x":28,"y":43},{"p":"B","s":"k3","k":"g","x":32.6,"y":54},{"p":"B","s":"k3","k":"g","x":36,"y":62},{"p":"B","s":"k3","k":"g","x":40,"y":70},{"p":"B","s":"k3","k":"g","x":40,"y":77},{"p":"B","s":"k3","k":"g","x":41.4,"y":80},{"p":"B","s":"k3","k":"g","x":44,"y":84},{"p":"B","s":"k3","k":"g","x":46.2,"y":88},{"p":"B","s":"k3","k":"g","x":47.9,"y":90},{"p":"B","s":"k3","k":"g","x":51.8,"y":99.5},{"p":"B","s":"k3","k":"g","x":57.9,"y":103.5},{"p":"B","s":"k3","k":"g","x":62.5,"y":104.5},{"p":"B","s":"k3","k":"g","x":63.9,"y":106},{"p":"B","s":"k3","k":"g","x":63.9,"y":110},{"p":"B","s":"k3","k":"g","x":79.9,"y":117.1},
{"p":"B","s":"k4","k":"g","x":0,"y":0},{"p":"B","s":"k4","k":"g","x":0,"y":3},{"p":"B","s":"k4","k":"g","x":5,"y":8},{"p":"B","s":"k4","k":"g","x":10,"y":14},{"p":"B","s":"k4","k":"g","x":15,"y":19},{"p":"B","s":"k4","k":"g","x":20,"y":25},{"p":"B","s":"k4","k":"g","x":22.7,"y":30},{"p":"B","s":"k4","k":"g","x":25.9,"y":40},{"p":"B","s":"k4","k":"g","x":28,"y":46},{"p":"B","s":"k4","k":"g","x":32.6,"y":58},{"p":"B","s":"k4","k":"g","x":36,"y":68},{"p":"B","s":"k4","k":"g","x":38.5,"y":75},{"p":"B","s":"k4","k":"g","x":40,"y":80},{"p":"B","s":"k4","k":"g","x":40,"y":88},{"p":"B","s":"k4","k":"g","x":41.4,"y":91.4},{"p":"B","s":"k4","k":"g","x":43,"y":92.5},{"p":"B","s":"k4","k":"g","x":44,"y":93.4},{"p":"B","s":"k4","k":"g","x":45.1,"y":94.7},{"p":"B","s":"k4","k":"g","x":46.2,"y":97.4},{"p":"B","s":"k4","k":"g","x":47.9,"y":98.7},{"p":"B","s":"k4","k":"g","x":51.8,"y":102.7},{"p":"B","s":"k4","k":"g","x":57.9,"y":108.7},{"p":"B","s":"k4","k":"g","x":62.5,"y":110.7},{"p":"B","s":"k4","k":"g","x":63.9,"y":112.3},{"p":"B","s":"k4","k":"g","x":79.9,"y":114.3},
{"p":"B","s":"k5","k":"g","x":0,"y":0},{"p":"B","s":"k5","k":"g","x":0,"y":2.5},{"p":"B","s":"k5","k":"g","x":5,"y":6},{"p":"B","s":"k5","k":"g","x":10,"y":11},{"p":"B","s":"k5","k":"g","x":15,"y":16},{"p":"B","s":"k5","k":"g","x":20,"y":21},{"p":"B","s":"k5","k":"g","x":22.7,"y":26},{"p":"B","s":"k5","k":"g","x":25.9,"y":33},{"p":"B","s":"k5","k":"g","x":28,"y":40},{"p":"B","s":"k5","k":"g","x":32.6,"y":50},{"p":"B","s":"k5","k":"g","x":36,"y":58},{"p":"B","s":"k5","k":"g","x":40,"y":64},{"p":"B","s":"k5","k":"g","x":40,"y":72},{"p":"B","s":"k5","k":"g","x":41.4,"y":75.6},{"p":"B","s":"k5","k":"g","x":44,"y":79},{"p":"B","s":"k5","k":"g","x":46.2,"y":82},{"p":"B","s":"k5","k":"g","x":47.9,"y":84},{"p":"B","s":"k5","k":"g","x":51.8,"y":91},{"p":"B","s":"k5","k":"g","x":57.9,"y":96},{"p":"B","s":"k5","k":"g","x":62.5,"y":98},{"p":"B","s":"k5","k":"g","x":63.9,"y":100},{"p":"B","s":"k5","k":"g","x":63.9,"y":107.5},{"p":"B","s":"k5","k":"g","x":79.9,"y":112.5},
{"p":"B","s":"k6","k":"g","x":0,"y":0},{"p":"B","s":"k6","k":"g","x":0,"y":2},{"p":"B","s":"k6","k":"g","x":5,"y":6},{"p":"B","s":"k6","k":"g","x":10,"y":10.5},{"p":"B","s":"k6","k":"g","x":15,"y":15},{"p":"B","s":"k6","k":"g","x":20,"y":20},{"p":"B","s":"k6","k":"g","x":22.7,"y":25},{"p":"B","s":"k6","k":"g","x":25.9,"y":31},{"p":"B","s":"k6","k":"g","x":28,"y":37},{"p":"B","s":"k6","k":"g","x":32.6,"y":46},{"p":"B","s":"k6","k":"g","x":36,"y":53},{"p":"B","s":"k6","k":"g","x":40,"y":60},{"p":"B","s":"k6","k":"g","x":40,"y":68},{"p":"B","s":"k6","k":"g","x":41.4,"y":71.6},{"p":"B","s":"k6","k":"g","x":44,"y":76},{"p":"B","s":"k6","k":"g","x":46.2,"y":78},{"p":"B","s":"k6","k":"g","x":47.9,"y":79.5},{"p":"B","s":"k6","k":"g","x":51.8,"y":81.7},{"p":"B","s":"k6","k":"g","x":57.9,"y":83.2},{"p":"B","s":"k6","k":"g","x":62.5,"y":84},{"p":"B","s":"k6","k":"g","x":63.9,"y":85.5},{"p":"B","s":"k6","k":"g","x":79.9,"y":98.2},
{"p":"B","s":"k7","k":"g","x":0,"y":0},{"p":"B","s":"k7","k":"g","x":0,"y":3},{"p":"B","s":"k7","k":"g","x":5,"y":7},{"p":"B","s":"k7","k":"g","x":10,"y":12},{"p":"B","s":"k7","k":"g","x":15,"y":16.5},{"p":"B","s":"k7","k":"g","x":20,"y":21.5},{"p":"B","s":"k7","k":"g","x":22.7,"y":26},{"p":"B","s":"k7","k":"g","x":25.9,"y":33},{"p":"B","s":"k7","k":"g","x":28,"y":39},{"p":"B","s":"k7","k":"g","x":32.6,"y":49},{"p":"B","s":"k7","k":"g","x":36,"y":57},{"p":"B","s":"k7","k":"g","x":40,"y":66},{"p":"B","s":"k7","k":"g","x":40,"y":74},{"p":"B","s":"k7","k":"g","x":41.4,"y":77.6},{"p":"B","s":"k7","k":"g","x":43,"y":79.4},{"p":"B","s":"k7","k":"g","x":46.2,"y":79.7},{"p":"B","s":"k7","k":"g","x":46.9,"y":82.7},{"p":"B","s":"k7","k":"g","x":47.9,"y":83.4},{"p":"B","s":"k7","k":"g","x":51.8,"y":84.2},{"p":"B","s":"k7","k":"g","x":57.9,"y":87.5},{"p":"B","s":"k7","k":"g","x":62.5,"y":88},{"p":"B","s":"k7","k":"g","x":63.9,"y":91},{"p":"B","s":"k7","k":"g","x":63.9,"y":93.2},{"p":"B","s":"k7","k":"g","x":79.9,"y":93.4},
{"p":"B","s":"k8","k":"g","x":0,"y":0},{"p":"B","s":"k8","k":"g","x":0,"y":4},{"p":"B","s":"k8","k":"g","x":5,"y":8},{"p":"B","s":"k8","k":"g","x":10,"y":13},{"p":"B","s":"k8","k":"g","x":15,"y":18},{"p":"B","s":"k8","k":"g","x":20,"y":24},{"p":"B","s":"k8","k":"g","x":22.7,"y":28},{"p":"B","s":"k8","k":"g","x":25.9,"y":35},{"p":"B","s":"k8","k":"g","x":28,"y":40},{"p":"B","s":"k8","k":"g","x":32.6,"y":47},{"p":"B","s":"k8","k":"g","x":36,"y":52},{"p":"B","s":"k8","k":"g","x":40,"y":57},{"p":"B","s":"k8","k":"g","x":41.4,"y":59.5},{"p":"B","s":"k8","k":"g","x":45.1,"y":60.2},{"p":"B","s":"k8","k":"g","x":47.9,"y":63.9},{"p":"B","s":"k8","k":"g","x":51.8,"y":65.6},{"p":"B","s":"k8","k":"g","x":57.9,"y":66.2},{"p":"B","s":"k8","k":"g","x":62.5,"y":66.8},{"p":"B","s":"k8","k":"g","x":63.9,"y":68.1},{"p":"B","s":"k8","k":"g","x":79.9,"y":71.4},
{"p":"B","s":"k9","k":"g","x":0,"y":0},{"p":"B","s":"k9","k":"g","x":3.2,"y":1.2},{"p":"B","s":"k9","k":"g","x":8.5,"y":4.5},{"p":"B","s":"k9","k":"g","x":13.9,"y":9.2},{"p":"B","s":"k9","k":"g","x":16.5,"y":12.4},{"p":"B","s":"k9","k":"g","x":19.3,"y":15.1},{"p":"B","s":"k9","k":"g","x":21.4,"y":19.7},{"p":"B","s":"k9","k":"g","x":21.9,"y":25.7},{"p":"B","s":"k9","k":"g","x":23,"y":27},{"p":"B","s":"k9","k":"g","x":23.5,"y":32.3},{"p":"B","s":"k9","k":"g","x":26,"y":36},{"p":"B","s":"k9","k":"g","x":30,"y":40},{"p":"B","s":"k9","k":"g","x":35,"y":45},{"p":"B","s":"k9","k":"g","x":40,"y":50},{"p":"B","s":"k9","k":"g","x":41.4,"y":51.8},{"p":"B","s":"k9","k":"g","x":46.2,"y":54.5},{"p":"B","s":"k9","k":"g","x":47.9,"y":56},{"p":"B","s":"k9","k":"g","x":51.8,"y":57.2},{"p":"B","s":"k9","k":"g","x":57.9,"y":58.5},{"p":"B","s":"k9","k":"g","x":63.9,"y":59.2},{"p":"B","s":"k9","k":"g","x":63.9,"y":60.2},{"p":"B","s":"k9","k":"g","x":79.9,"y":64.9},
{"p":"B","s":"k10","k":"g","x":0,"y":0},{"p":"B","s":"k10","k":"g","x":5,"y":3.5},{"p":"B","s":"k10","k":"g","x":10,"y":6.5},{"p":"B","s":"k10","k":"g","x":15,"y":11},{"p":"B","s":"k10","k":"g","x":20,"y":16},{"p":"B","s":"k10","k":"g","x":22.7,"y":22},{"p":"B","s":"k10","k":"g","x":25.9,"y":30},{"p":"B","s":"k10","k":"g","x":30,"y":38},{"p":"B","s":"k10","k":"g","x":35,"y":44},{"p":"B","s":"k10","k":"g","x":40,"y":49},{"p":"B","s":"k10","k":"g","x":41.4,"y":49.8},{"p":"B","s":"k10","k":"g","x":47.9,"y":54.6},{"p":"B","s":"k10","k":"g","x":51.8,"y":59.2},{"p":"B","s":"k10","k":"g","x":57.9,"y":64.2},{"p":"B","s":"k10","k":"g","x":60,"y":68},{"p":"B","s":"k10","k":"g","x":62.5,"y":75.8},{"p":"B","s":"k10","k":"g","x":63.2,"y":80},{"p":"B","s":"k10","k":"g","x":63.9,"y":86},{"p":"B","s":"k10","k":"g","x":79.9,"y":97.6},
{"p":"B","s":"n","k":"n","x":0,"y":0},{"p":"B","s":"n","k":"n","x":0,"y":1.9},{"p":"B","s":"n","k":"n","x":3.2,"y":7.2},{"p":"B","s":"n","k":"n","x":5.9,"y":11.1},{"p":"B","s":"n","k":"n","x":8.5,"y":14.4},{"p":"B","s":"n","k":"n","x":11.8,"y":19.1},{"p":"B","s":"n","k":"n","x":13.4,"y":21.7},{"p":"B","s":"n","k":"n","x":15.5,"y":25},{"p":"B","s":"n","k":"n","x":19.3,"y":30.4},{"p":"B","s":"n","k":"n","x":21.4,"y":37.7},{"p":"B","s":"n","k":"n","x":22.5,"y":41},{"p":"B","s":"n","k":"n","x":22.9,"y":45.6},{"p":"B","s":"n","k":"n","x":25.1,"y":52.3},{"p":"B","s":"n","k":"n","x":26.2,"y":58.9},{"p":"B","s":"n","k":"n","x":27.3,"y":59.5},{"p":"B","s":"n","k":"n","x":27.8,"y":63.2},{"p":"B","s":"n","k":"n","x":28.9,"y":64.2},{"p":"B","s":"n","k":"n","x":30.2,"y":67.5},{"p":"B","s":"n","k":"n","x":31,"y":72},{"p":"B","s":"n","k":"n","x":32,"y":74},{"p":"B","s":"n","k":"n","x":33.1,"y":78.1},{"p":"B","s":"n","k":"n","x":33.9,"y":80.1},{"p":"B","s":"n","k":"n","x":36.1,"y":82.1},{"p":"B","s":"n","k":"n","x":37.1,"y":83.4},{"p":"B","s":"n","k":"n","x":37.9,"y":86.1},{"p":"B","s":"n","k":"n","x":38.5,"y":90},{"p":"B","s":"n","k":"n","x":40,"y":94.7},{"p":"B","s":"n","k":"n","x":40.4,"y":97},{"p":"B","s":"n","k":"n","x":43.1,"y":98.7},{"p":"B","s":"n","k":"n","x":44.9,"y":103},{"p":"B","s":"n","k":"n","x":45.8,"y":104},{"p":"B","s":"n","k":"n","x":47.6,"y":105.6},{"p":"B","s":"n","k":"n","x":51.5,"y":107.3},{"p":"B","s":"n","k":"n","x":51.6,"y":108.6},{"p":"B","s":"n","k":"n","x":52,"y":112.3},{"p":"B","s":"n","k":"n","x":62.5,"y":113.3},{"p":"B","s":"n","k":"n","x":63.9,"y":114.3},{"p":"B","s":"n","k":"n","x":79.9,"y":120.2},
{"p":"B","s":"p","k":"p","x":0,"y":0.5},{"p":"B","s":"p","k":"p","x":0,"y":3.9},{"p":"B","s":"p","k":"p","x":3.2,"y":9.2},{"p":"B","s":"p","k":"p","x":5.9,"y":12.5},{"p":"B","s":"p","k":"p","x":8.5,"y":15.8},{"p":"B","s":"p","k":"p","x":11.2,"y":19.1},{"p":"B","s":"p","k":"p","x":13.9,"y":23.1},{"p":"B","s":"p","k":"p","x":16.5,"y":25.7},{"p":"B","s":"p","k":"p","x":19.3,"y":29},{"p":"B","s":"p","k":"p","x":21.1,"y":32.3},{"p":"B","s":"p","k":"p","x":22.9,"y":39},{"p":"B","s":"p","k":"p","x":23.5,"y":41.6},{"p":"B","s":"p","k":"p","x":25.7,"y":47},{"p":"B","s":"p","k":"p","x":25.9,"y":52.5},{"p":"B","s":"p","k":"p","x":27.5,"y":53.2},{"p":"B","s":"p","k":"p","x":28.3,"y":57.1},{"p":"B","s":"p","k":"p","x":30.7,"y":58.5},{"p":"B","s":"p","k":"p","x":32,"y":60.4},{"p":"B","s":"p","k":"p","x":32.9,"y":65.6},{"p":"B","s":"p","k":"p","x":33.6,"y":69.5},{"p":"B","s":"p","k":"p","x":35,"y":70.9},{"p":"B","s":"p","k":"p","x":36.1,"y":74.5},{"p":"B","s":"p","k":"p","x":38,"y":76.8},{"p":"B","s":"p","k":"p","x":40,"y":80.1},{"p":"B","s":"p","k":"p","x":40.4,"y":83.6},{"p":"B","s":"p","k":"p","x":41.4,"y":84.2},{"p":"B","s":"p","k":"p","x":43.6,"y":85.5},{"p":"B","s":"p","k":"p","x":44,"y":86.2},{"p":"B","s":"p","k":"p","x":46.2,"y":87.9},{"p":"B","s":"p","k":"p","x":51.8,"y":89.2},{"p":"B","s":"p","k":"p","x":52,"y":90.9},{"p":"B","s":"p","k":"p","x":57.9,"y":90.9},{"p":"B","s":"p","k":"p","x":62.5,"y":94},{"p":"B","s":"p","k":"p","x":63.9,"y":94},{"p":"B","s":"p","k":"p","x":64.2,"y":100},{"p":"B","s":"p","k":"p","x":79.9,"y":112.1}
]},
"vconcat": [
{
  "width": 1061, "height": 809,
  "encoding": {
    "x": {"field": "x", "type": "quantitative", "scale": {"domain": [-3.03, 104.04], "nice": false, "zero": false}, "axis": {"values": [0, 20, 40, 60, 80, 100], "title": "Observed rainfall (mm)"}},
    "y": {"field": "y", "type": "quantitative", "scale": {"domain": [-4.97, 155.76], "nice": false, "zero": false}, "axis": {"values": [0, 50, 100, 150], "title": "Forecasted rainfall (mm)"}},
    "color": {"field": "k", "type": "nominal", "scale": {"domain": ["g", "a", "n", "p"], "range": ["#000000", "#a9a9a9", "#000000", "#000000"]}, "legend": {"title": null, "orient": "none", "legendX": 144.5, "legendY": 146, "symbolType": "M-1.78,0H1.78", "symbolSize": 1024, "labelFontSize": 34, "labelColor": "#000", "labelLimit": 1000, "labelOffset": 31.5, "rowPadding": 0, "padding": 0, "labelExpr": "datum.value == 'g' ? 'PV−gradient members' : datum.value == 'a' ? 'PV−adjoint members' : datum.value == 'n' ? 'Non−perturbed' : 'Perturbed'"}},
    "strokeDash": {"field": "k", "type": "nominal", "scale": {"domain": ["g", "a", "n", "p"], "range": [[1, 0], [1, 0], [20, 22], [1, 0]]}, "legend": {"title": null, "orient": "none", "legendX": 144.5, "legendY": 146, "symbolType": "M-1.78,0H1.78", "symbolSize": 1024, "labelFontSize": 34, "labelColor": "#000", "labelLimit": 1000, "labelOffset": 31.5, "rowPadding": 0, "padding": 0, "labelExpr": "datum.value == 'g' ? 'PV−gradient members' : datum.value == 'a' ? 'PV−adjoint members' : datum.value == 'n' ? 'Non−perturbed' : 'Perturbed'"}},
    "strokeWidth": {"field": "k", "type": "nominal", "scale": {"type": "ordinal", "domain": ["g", "a", "n", "p"], "range": [2.2, 2.2, 9, 7.5]}, "legend": {"title": null, "orient": "none", "legendX": 144.5, "legendY": 146, "symbolType": "M-1.78,0H1.78", "symbolSize": 1024, "labelFontSize": 34, "labelColor": "#000", "labelLimit": 1000, "labelOffset": 31.5, "rowPadding": 0, "padding": 0, "labelExpr": "datum.value == 'g' ? 'PV−gradient members' : datum.value == 'a' ? 'PV−adjoint members' : datum.value == 'n' ? 'Non−perturbed' : 'Perturbed'"}},
    "detail": {"field": "s", "type": "nominal"},
    "order": {"value": null}
  },
  "layer": [
    {"data": {"values": [{"x": 0, "y": 0, "s": "diag"}, {"x": 200, "y": 200, "s": "diag"}]}, "mark": {"type": "line", "clip": true}, "encoding": {"color": {"value": "#000"}, "strokeDash": {"value": [1, 0]}, "strokeWidth": {"value": 2}}},
    {"data": {"name": "d"}, "transform": [{"filter": "datum.p == 'T' && datum.k == 'a'"}], "mark": {"type": "line", "clip": true}},
    {"data": {"name": "d"}, "transform": [{"filter": "datum.p == 'T' && datum.k == 'g'"}], "mark": {"type": "line", "clip": true}},
    {"data": {"name": "d"}, "transform": [{"filter": "datum.p == 'T' && datum.k == 'n'"}], "mark": {"type": "line", "clip": true}, "encoding": {"color": {"value": "#a9a9a9"}, "strokeDash": {"value": [1, 0]}, "strokeWidth": {"value": 2.2}}},
    {"data": {"name": "d"}, "transform": [{"filter": "datum.p == 'T' && (datum.k == 'n' || datum.k == 'p')"}], "mark": {"type": "line", "clip": true}}
  ]
},
{
  "width": 1061, "height": 809,
  "encoding": {
    "x": {"field": "x", "type": "quantitative", "scale": {"domain": [-2.19, 82.9], "nice": false, "zero": false}, "axis": {"values": [0, 20, 40, 60, 80], "title": "Observed rainfall (mm)"}},
    "y": {"field": "y", "type": "quantitative", "scale": {"domain": [-4.97, 155.97], "nice": false, "zero": false}, "axis": {"values": [0, 50, 100, 150], "title": "Forecasted rain fall (mm)"}},
    "color": {"field": "k", "type": "nominal", "scale": {"domain": ["g", "a", "n", "p"], "range": ["#000000", "#a9a9a9", "#000000", "#000000"]}, "legend": {"title": null, "orient": "none", "legendX": 144.5, "legendY": 76, "symbolType": "M-1.78,0H1.78", "symbolSize": 1024, "labelFontSize": 34, "labelColor": "#000", "labelLimit": 1000, "labelOffset": 15.5, "rowPadding": 0, "padding": 0, "labelExpr": "datum.value == 'g' ? 'PV−gradient members' : datum.value == 'a' ? 'PV−adjoint members' : datum.value == 'n' ? 'Non−perturbed' : 'Perturbed'"}},
    "strokeDash": {"field": "k", "type": "nominal", "scale": {"domain": ["g", "a", "n", "p"], "range": [[1, 0], [1, 0], [20, 22], [1, 0]]}, "legend": {"title": null, "orient": "none", "legendX": 144.5, "legendY": 76, "symbolType": "M-1.78,0H1.78", "symbolSize": 1024, "labelFontSize": 34, "labelColor": "#000", "labelLimit": 1000, "labelOffset": 15.5, "rowPadding": 0, "padding": 0, "labelExpr": "datum.value == 'g' ? 'PV−gradient members' : datum.value == 'a' ? 'PV−adjoint members' : datum.value == 'n' ? 'Non−perturbed' : 'Perturbed'"}},
    "strokeWidth": {"field": "k", "type": "nominal", "scale": {"type": "ordinal", "domain": ["g", "a", "n", "p"], "range": [2.2, 2.2, 9, 7.5]}, "legend": {"title": null, "orient": "none", "legendX": 144.5, "legendY": 76, "symbolType": "M-1.78,0H1.78", "symbolSize": 1024, "labelFontSize": 34, "labelColor": "#000", "labelLimit": 1000, "labelOffset": 15.5, "rowPadding": 0, "padding": 0, "labelExpr": "datum.value == 'g' ? 'PV−gradient members' : datum.value == 'a' ? 'PV−adjoint members' : datum.value == 'n' ? 'Non−perturbed' : 'Perturbed'"}},
    "detail": {"field": "s", "type": "nominal"},
    "order": {"value": null}
  },
  "layer": [
    {"data": {"values": [{"x": 0, "y": 0, "s": "diag"}, {"x": 200, "y": 200, "s": "diag"}]}, "mark": {"type": "line", "clip": true}, "encoding": {"color": {"value": "#000"}, "strokeDash": {"value": [1, 0]}, "strokeWidth": {"value": 2}}},
    {"data": {"name": "d"}, "transform": [{"filter": "datum.p == 'B' && datum.k == 'a'"}], "mark": {"type": "line", "clip": true}},
    {"data": {"name": "d"}, "transform": [{"filter": "datum.p == 'B' && datum.k == 'g'"}], "mark": {"type": "line", "clip": true}},
    {"data": {"name": "d"}, "transform": [{"filter": "datum.p == 'B' && datum.k == 'n'"}], "mark": {"type": "line", "clip": true}, "encoding": {"color": {"value": "#a9a9a9"}, "strokeDash": {"value": [1, 0]}, "strokeWidth": {"value": 2.2}}},
    {"data": {"name": "d"}, "transform": [{"filter": "datum.p == 'B' && (datum.k == 'n' || datum.k == 'p')"}], "mark": {"type": "line", "clip": true}}
  ]
}
],
"resolve": {"scale": {"color": "independent", "strokeDash": "independent", "strokeWidth": "independent"}}
}
